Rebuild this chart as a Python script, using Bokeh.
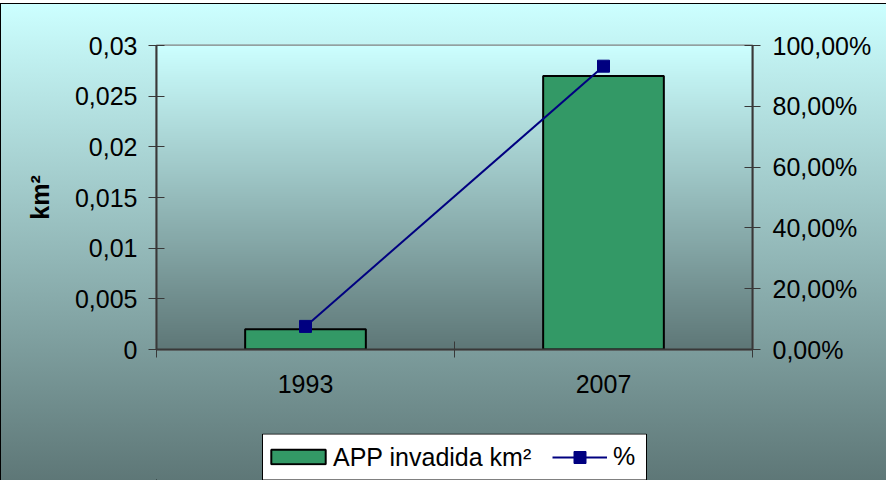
import numpy as np
from bokeh.plotting import figure
from bokeh.layouts import column
from bokeh.models import (Range1d, LinearAxis, FixedTicker, Legend, LegendItem,
                          BoxAnnotation)
from bokeh.embed import file_html
from bokeh.resources import INLINE

# ---- data ----
categories = ["1993", "2007"]
area_km2 = [0.002, 0.027]
pct = [0.076, 0.932]
left_ticks = [0, 0.005, 0.01, 0.015, 0.02, 0.025, 0.03]
left_labels = ["0", "0,005", "0,01", "0,015", "0,02", "0,025", "0,03"]
right_ticks = [0, 0.2, 0.4, 0.6, 0.8, 1.0]
right_labels = ["0,00%", "20,00%", "40,00%", "60,00%", "80,00%", "100,00%"]
series_bar = "APP invadida km²"
series_line = "%"
axis_title = "km²"

FONT = "Liberation Sans"
FS = "25px"
BAR_COLOR = "#339966"
LINE_COLOR = "#000080"
n = len(categories)
xc = [i + 0.5 for i in range(n)]
bounds = [i for i in range(n + 1)]

p = figure(width=885, height=429, output_backend="svg", toolbar_location=None,
           x_range=Range1d(0, n), y_range=Range1d(left_ticks[0], left_ticks[-1]),
           min_border_left=155, min_border_right=134, min_border_top=41,
           min_border_bottom=84)
p.extra_y_ranges = {"pct": Range1d(right_ticks[0], right_ticks[-1])}
p.border_fill_color = None
p.background_fill_color = None
p.outline_line_color = "#808080"
p.outline_line_width = 2
p.grid.visible = False

# plot area gradient
hh = 300
t = np.linspace(0, 1, hh)[:, None]
top_c = np.array([0xCC, 0xFF, 0xFF], dtype=float)
bot_c = np.array([0x5E, 0x77, 0x77], dtype=float)
img = np.zeros((hh, 1), dtype=np.uint32)
view = img.view(dtype=np.uint8).reshape((hh, 1, 4))
for k in range(3):
    view[:, :, k] = np.round(bot_c[k] + (top_c[k] - bot_c[k]) * t).astype(np.uint8)
view[:, :, 3] = 255
ymin, ymax = left_ticks[0], left_ticks[-1]
p.image_rgba(image=[img], x=0, y=ymin, dw=n, dh=ymax - ymin)

bar_kw = dict(width=0.405, fill_color=BAR_COLOR, line_color="black", line_width=2)
line_kw = dict(line_color=LINE_COLOR, line_width=2)
mark_kw = dict(marker="square", size=12, fill_color=LINE_COLOR, line_color=LINE_COLOR)

p.vbar(x=xc, top=area_km2, bottom=0, **bar_kw)
p.line(xc, pct, y_range_name="pct", **line_kw)
p.scatter(xc, pct, y_range_name="pct", **mark_kw)

def style_axis(ax):
    ax.axis_line_color = "#383838"
    ax.axis_line_width = 2
    ax.major_tick_line_color = "#383838"
    ax.major_tick_line_width = 1
    ax.minor_tick_line_color = "#383838"
    ax.major_label_text_font = FONT
    ax.major_label_text_font_size = FS
    ax.major_label_text_color = "black"

# left axis
ly = p.yaxis[0]
style_axis(ly)
ly.ticker = FixedTicker(ticks=left_ticks)
ly.major_label_overrides = dict(zip(left_ticks, left_labels))
ly.major_tick_in = 8
ly.major_tick_out = 8
ly.minor_tick_in = 0
ly.minor_tick_out = 0
ly.major_label_standoff = 11
ly.axis_label = axis_title
ly.axis_label_text_font = FONT
ly.axis_label_text_font_size = FS
ly.axis_label_text_font_style = "bold"
ly.axis_label_text_color = "black"
ly.axis_label_standoff = 18

# right axis
ry = LinearAxis(y_range_name="pct", ticker=FixedTicker(ticks=right_ticks))
style_axis(ry)
ry.major_label_overrides = dict(zip(right_ticks, right_labels))
ry.major_tick_in = 8
ry.major_tick_out = 8
ry.minor_tick_in = 0
ry.minor_tick_out = 0
ry.major_label_standoff = 12
p.add_layout(ry, "right")

# x axis
xa = p.xaxis[0]
style_axis(xa)
xa.ticker = FixedTicker(ticks=xc, minor_ticks=bounds)
xa.major_label_overrides = dict(zip(xc, categories))
xa.major_tick_in = 0
xa.major_tick_out = 0
xa.minor_tick_in = 8
xa.minor_tick_out = 8
xa.major_label_standoff = 17

# legend strip (separate figure so the legend is not clipped by the plot area);
# its renderers carry the same data but lie outside that strip's ranges
lf = figure(width=885, height=47, output_backend="svg", toolbar_location=None,
            x_range=Range1d(n + 10, n + 11), y_range=Range1d(10, 11),
            x_axis_type=None, y_axis_type=None, min_border=0)
lf.border_fill_color = None
lf.background_fill_color = None
lf.outline_line_color = None
lf.grid.visible = False
lb = lf.vbar(x=xc, top=area_km2, bottom=0, **bar_kw)
ll = lf.line(xc, pct, **line_kw)
lm = lf.scatter(xc, pct, **mark_kw)

box = BoxAnnotation(left=106, right=490, bottom=0.5, top=46.5,
                    left_units="screen", right_units="screen",
                    bottom_units="screen", top_units="screen",
                    fill_color="white", fill_alpha=1.0,
                    line_color="black", line_alpha=1.0, line_width=1,
                    line_dash="solid")
lf.add_layout(box)

leg_common = dict(orientation="horizontal", location="center_left",
                  label_text_font=FONT, label_text_font_size=FS,
                  label_text_color="black", padding=0, spacing=0,
                  border_line_color=None, background_fill_alpha=0.0)
leg_bar = Legend(items=[LegendItem(label=series_bar, renderers=[lb])],
                 glyph_width=68, glyph_height=18, label_standoff=1, margin=108,
                 **leg_common)
leg_line = Legend(items=[LegendItem(label=series_line, renderers=[ll, lm])],
                  glyph_width=55, glyph_height=30, label_standoff=6, margin=396,
                  **leg_common)
lf.add_layout(leg_bar, "center")
lf.add_layout(leg_line, "center")

layout = column(p, lf, spacing=0)
layout.styles = {
    "background": "linear-gradient(to bottom, #CCFFFF, #5E7777)",
    "border-top": "1px solid black",
    "border-left": "1px solid black",
    "margin-top": "3px",
}

open("out.html", "w").write(file_html(layout, INLINE))
